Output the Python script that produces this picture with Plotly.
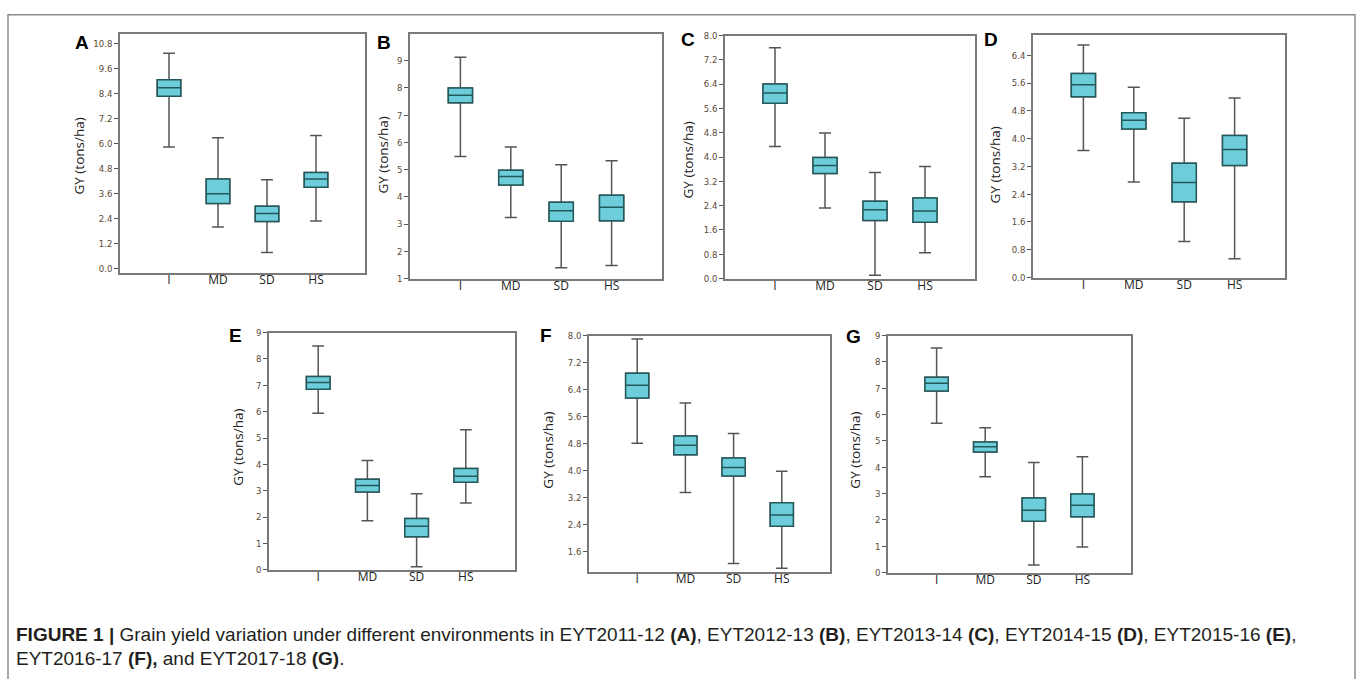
import plotly.graph_objects as go

# ---------------- data ----------------
categories = ["I", "MD", "SD", "HS"]
panel_letters = ["A", "B", "C", "D", "E", "F", "G"]

# A: EYT2011-12
A_upper = [10.33, 6.28, 4.27, 6.39]
A_q3 = [9.06, 4.30, 3.00, 4.61]
A_median = [8.67, 3.60, 2.65, 4.30]
A_q1 = [8.27, 3.13, 2.27, 3.91]
A_lower = [5.84, 2.01, 0.78, 2.29]
A_ticks = ["0.0", "1.2", "2.4", "3.6", "4.8", "6.0", "7.2", "8.4", "9.6", "10.8"]

# B: EYT2012-13
B_upper = [9.13, 5.83, 5.18, 5.33]
B_q3 = [8.00, 4.98, 3.80, 4.06]
B_median = [7.73, 4.75, 3.49, 3.62]
B_q1 = [7.46, 4.44, 3.10, 3.12]
B_lower = [5.48, 3.24, 1.40, 1.48]
B_ticks = ["1", "2", "3", "4", "5", "6", "7", "8", "9"]

# C: EYT2013-14
C_upper = [7.60, 4.79, 3.49, 3.69]
C_q3 = [6.40, 3.98, 2.54, 2.65]
C_median = [6.11, 3.72, 2.26, 2.22]
C_q1 = [5.77, 3.46, 1.91, 1.85]
C_lower = [4.35, 2.32, 0.11, 0.85]
C_ticks = ["0.0", "0.8", "1.6", "2.4", "3.2", "4.0", "4.8", "5.6", "6.4", "7.2", "8.0"]

# D: EYT2014-15
D_upper = [6.70, 5.48, 4.59, 5.17]
D_q3 = [5.88, 4.75, 3.29, 4.09]
D_median = [5.55, 4.53, 2.74, 3.69]
D_q1 = [5.21, 4.28, 2.18, 3.23]
D_lower = [3.66, 2.75, 1.04, 0.54]
D_ticks = ["0.0", "0.8", "1.6", "2.4", "3.2", "4.0", "4.8", "5.6", "6.4"]

# E: EYT2015-16
E_upper = [8.49, 4.15, 2.88, 5.31]
E_q3 = [7.33, 3.43, 1.94, 3.84]
E_median = [7.11, 3.20, 1.65, 3.55]
E_q1 = [6.85, 2.95, 1.25, 3.32]
E_lower = [5.94, 1.86, 0.11, 2.53]
E_ticks = ["0", "1", "2", "3", "4", "5", "6", "7", "8", "9"]

# F: EYT2016-17
F_upper = [7.90, 6.00, 5.10, 3.98]
F_q3 = [6.88, 5.02, 4.37, 3.04]
F_median = [6.53, 4.75, 4.09, 2.68]
F_q1 = [6.15, 4.47, 3.84, 2.35]
F_lower = [4.81, 3.35, 1.24, 1.10]
F_ticks = ["1.6", "2.4", "3.2", "4.0", "4.8", "5.6", "6.4", "7.2", "8.0"]

# G: EYT2017-18
G_upper = [8.53, 5.50, 4.18, 4.40]
G_q3 = [7.42, 4.96, 2.83, 2.99]
G_median = [7.19, 4.78, 2.37, 2.56]
G_q1 = [6.90, 4.58, 1.95, 2.12]
G_lower = [5.67, 3.64, 0.29, 0.97]
G_ticks = ["0", "1", "2", "3", "4", "5", "6", "7", "8", "9"]

y_title = "GY (tons/ha)"
caption_line1 = ("<b>FIGURE 1 |</b> Grain yield variation under different environments in "
                 "EYT2011-12 <b>(A)</b>, EYT2012-13 <b>(B)</b>, EYT2013-14 <b>(C)</b>, "
                 "EYT2014-15 <b>(D)</b>, EYT2015-16 <b>(E)</b>,")
caption_line2 = "EYT2016-17 <b>(F),</b> and EYT2017-18 <b>(G)</b>."

stats = {
    "A": (A_lower, A_q1, A_median, A_q3, A_upper, A_ticks),
    "B": (B_lower, B_q1, B_median, B_q3, B_upper, B_ticks),
    "C": (C_lower, C_q1, C_median, C_q3, C_upper, C_ticks),
    "D": (D_lower, D_q1, D_median, D_q3, D_upper, D_ticks),
    "E": (E_lower, E_q1, E_median, E_q3, E_upper, E_ticks),
    "F": (F_lower, F_q1, F_median, F_q3, F_upper, F_ticks),
    "G": (G_lower, G_q1, G_median, G_q3, G_upper, G_ticks),
}

# ---------------- layout (pixels) ----------------
W, H = 1357, 679
# plot frame: x0, x1, y0(top), y1(bottom), y-range
geom = {
    "A": (120, 365, 28, 271, [-0.18, 11.27]),
    "B": (410, 662, 28, 277, [1, 10]),
    "C": (725, 975, 30, 277, [0, 8]),
    "D": (1033, 1285, 29, 276, [0, 7]),
    "E": (269, 515, 332, 573, [0, 9]),
    "F": (589, 830, 335, 575, [1, 8]),
    "G": (888, 1131, 335, 576, [0, 9]),
}
letter_pos = {"A": (82, 37), "B": (384, 37), "C": (688, 34), "D": (991, 34),
              "E": (235, 335), "F": (546, 335), "G": (853, 336)}
title_pos = {"A": (79, 153), "B": (383, 152), "C": (688, 157), "D": (995, 161),
             "E": (238, 449), "F": (548, 452), "G": (855, 452)}

FILL = "#6ecdda"
WHISK = "#555555"
EDGE = "#23595b"
FRAME = "#7a7a7a"
TICKFONT = dict(family="DejaVu Sans Condensed, Liberation Sans Narrow, sans-serif",
                size=9.5, color="#5a4935")
XFONT = dict(family="Open Sans, Segoe UI, sans-serif", size=12, color="#222222")

def px_x(x):
    return x / W

def px_y(y):
    return 1 - y / H

fig = go.Figure()
annotations = []
xpos = list(range(len(categories)))

for i, key in enumerate(panel_letters):
    lower, q1, med, q3, upper, ticks = stats[key]
    x0, x1, y0, y1, yr = geom[key]
    n = "" if i == 0 else str(i + 1)
    xa, ya = "x" + n, "y" + n
    # full box with grey whiskers
    fig.add_trace(go.Box(
        x=xpos, q1=q1, median=med, q3=q3, lowerfence=lower, upperfence=upper,
        xaxis=xa, yaxis=ya, width=0.48, whiskerwidth=0.5, boxpoints=False,
        fillcolor=FILL, line=dict(color=WHISK, width=1.5), showlegend=False,
        hoverinfo="skip"))
    # box outline + median in dark teal
    fig.add_trace(go.Box(
        x=xpos, q1=q1, median=med, q3=q3, lowerfence=q1, upperfence=q3,
        xaxis=xa, yaxis=ya, width=0.48, whiskerwidth=0, boxpoints=False,
        fillcolor=FILL, line=dict(color=EDGE, width=1.5), showlegend=False,
        hoverinfo="skip"))
    fig.layout["xaxis" + n] = dict(
        domain=[px_x(x0), px_x(x1)], anchor=ya, range=[-1, 4],
        tickvals=xpos, ticktext=categories, tickfont=XFONT, ticks="",
        ticklabelstandoff=-5,
        showgrid=False, zeroline=False, showline=True, mirror=True,
        linecolor=FRAME, linewidth=1.5, fixedrange=True)
    fig.layout["yaxis" + n] = dict(
        domain=[px_y(y1), px_y(y0)], anchor=xa, range=yr,
        tickvals=[float(t) for t in ticks], ticktext=ticks, tickfont=TICKFONT,
        ticks="outside", ticklen=4, tickcolor="#555555", tickwidth=1,
        showgrid=False, zeroline=False, showline=True, mirror=True,
        linecolor=FRAME, linewidth=1.5, fixedrange=True)
    lx, ly = letter_pos[key]
    annotations.append(dict(text="<b>%s</b>" % key, x=px_x(lx), y=px_y(ly),
                            xref="paper", yref="paper", showarrow=False,
                            xanchor="center", yanchor="middle",
                            font=dict(family="Liberation Sans, Arial, sans-serif",
                                      size=19, color="#000000")))
    tx, ty = title_pos[key]
    annotations.append(dict(text=y_title, x=px_x(tx), y=px_y(ty), textangle=-90,
                            xref="paper", yref="paper", showarrow=False,
                            xanchor="center", yanchor="middle",
                            font=dict(family="Open Sans, Segoe UI, sans-serif",
                                      size=13.5, color="#222222")))

CAPFONT = dict(family="Liberation Sans, Arial, sans-serif", size=19, color="#231f20")
annotations.append(dict(text=caption_line1, x=px_x(14), y=px_y(639), xref="paper", yref="paper",
                        showarrow=False, xanchor="left", yanchor="middle", font=CAPFONT))
annotations.append(dict(text=caption_line2, x=px_x(14), y=px_y(663), xref="paper", yref="paper",
                        showarrow=False, xanchor="left", yanchor="middle", font=CAPFONT))

fig.update_layout(
    width=W, height=H, margin=dict(l=0, r=0, t=0, b=0),
    paper_bgcolor="white", plot_bgcolor="white", boxmode="overlay",
    annotations=annotations,
    shapes=[dict(type="rect", xref="paper", yref="paper",
                 x0=px_x(8), x1=px_x(1355), y0=px_y(700), y1=px_y(9),
                 line=dict(color="#8c8c8c", width=1.5), fillcolor="rgba(0,0,0,0)")],
)

fig.write_html("out.html")
